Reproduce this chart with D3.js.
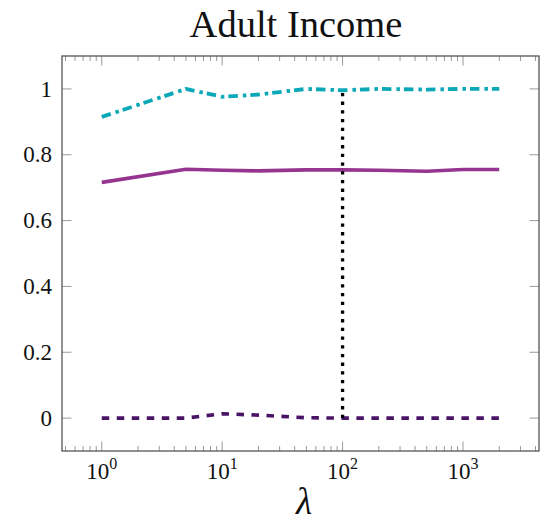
<!DOCTYPE html>
<html>
<head>
<meta charset="utf-8">
<script src="https://cdn.jsdelivr.net/npm/d3@7/dist/d3.min.js"></script>
<style>
  html, body { margin: 0; padding: 0; background: #fff; }
  svg { display: block; }
</style>
</head>
<body>
<svg id="chart" width="541" height="523"></svg>
<script>
// ---- data ----
const title = "Adult Income";
const xLabel = "λ";
const lambdas = [1, 5, 10, 20, 50, 100, 200, 500, 1000, 2000];
const seriesTop = [0.915, 1.0, 0.976, 0.983, 1.0, 0.996, 1.0, 0.998, 1.0, 1.0];
const seriesMid = [0.716, 0.756, 0.753, 0.751, 0.754, 0.754, 0.753, 0.750, 0.755, 0.755];
const seriesLow = [0.0, 0.0, 0.013, 0.009, 0.001, 0.0, 0.0, 0.0, 0.0, 0.0];
const markerX = [100, 100];
const markerY = [0, 1];
const yTicks = [0, 0.2, 0.4, 0.6, 0.8, 1];
const xTickExps = [0, 1, 2, 3];
const yDomain = [-0.1, 1.1];

// ---- layout ----
const pL = 62, pR = 539, pT = 56, pB = 451;
const svg = d3.select("#chart");
const serif = "'Liberation Serif', 'DejaVu Serif', serif";

const lmax = Math.log10(d3.max(lambdas));
const x = d3.scaleLog()
  .domain([Math.pow(10, -0.1 * lmax), Math.pow(10, 1.1 * lmax)])
  .range([pL, pR]);
const y = d3.scaleLinear().domain(yDomain).range([pB, pT]);

// minor ticks
const minor = [];
for (let e = -1; e <= 3; e++) {
  for (let m = 2; m <= 9; m++) {
    const v = m * Math.pow(10, e);
    if (v > x.domain()[0] && v < x.domain()[1]) minor.push(v);
  }
}
const major = xTickExps.map(e => Math.pow(10, e));

const tickColor = "#9a9a9a";
const g = svg.append("g");

// x ticks bottom & top (inward)
[[pB, -1], [pT, 1]].forEach(([yy, dir]) => {
  g.selectAll(null).data(minor).enter().append("line")
    .attr("x1", d => x(d)).attr("x2", d => x(d))
    .attr("y1", yy).attr("y2", yy + dir * 5)
    .attr("stroke", tickColor).attr("stroke-width", 1);
  g.selectAll(null).data(major).enter().append("line")
    .attr("x1", d => x(d)).attr("x2", d => x(d))
    .attr("y1", yy).attr("y2", yy + dir * 9.5)
    .attr("stroke", tickColor).attr("stroke-width", 1);
});
// y ticks left & right (inward)
[[pL, 1], [pR, -1]].forEach(([xx, dir]) => {
  g.selectAll(null).data(yTicks).enter().append("line")
    .attr("x1", xx).attr("x2", xx + dir * 9.5)
    .attr("y1", d => y(d)).attr("y2", d => y(d))
    .attr("stroke", tickColor).attr("stroke-width", 1);
});

// frame
g.append("rect")
  .attr("x", pL).attr("y", pT)
  .attr("width", pR - pL).attr("height", pB - pT)
  .attr("fill", "none").attr("stroke", "#555").attr("stroke-width", 1.3);

// y tick labels
g.selectAll(null).data(yTicks).enter().append("text")
  .attr("x", pL - 10).attr("y", d => y(d))
  .attr("dy", "0.33em")
  .attr("text-anchor", "end")
  .attr("font-family", serif).attr("font-size", 23)
  .attr("fill", "#111")
  .text(d => d3.format("~g")(d));

// x tick labels 10^e
const xl = g.selectAll(null).data(xTickExps).enter().append("text")
  .attr("x", d => x(Math.pow(10, d)))
  .attr("y", 479)
  .attr("text-anchor", "middle")
  .attr("font-family", serif).attr("font-size", 23)
  .attr("fill", "#111");
xl.append("tspan").text("10");
xl.append("tspan").attr("dy", -10).attr("font-size", 16).text(d => d);

// lines
const line = d3.line().x(d => x(d[0])).y(d => y(d[1]));
const plotG = svg.append("g");
function drawSeries(vals, color, dash, w) {
  plotG.append("path")
    .datum(lambdas.map((l, i) => [l, vals[i]]))
    .attr("d", line)
    .attr("fill", "none")
    .attr("stroke", color)
    .attr("stroke-width", w)
    .attr("stroke-dasharray", dash)
    .attr("stroke-linejoin", "round");
}
drawSeries(seriesMid, "#96358f", null, 3.6);
drawSeries(seriesLow, "#4a1466", "7.5 7.5", 3.6);
drawSeries(seriesTop, "#0ba8b8", "9.5 5 3.5 4", 3.8);

// vertical dotted marker
plotG.append("path")
  .datum(markerX.map((v, i) => [v, markerY[i]]))
  .attr("d", line)
  .attr("fill", "none")
  .attr("stroke", "#000")
  .attr("stroke-width", 3.3)
  .attr("stroke-dasharray", "3.3 5.4");

// title
svg.append("text")
  .attr("x", 296).attr("y", 37)
  .attr("text-anchor", "middle")
  .attr("font-family", serif).attr("font-size", 38.5)
  .attr("fill", "#111")
  .text(title);

// x label
svg.append("text")
  .attr("x", 304).attr("y", 514)
  .attr("text-anchor", "middle")
  .attr("font-family", serif).attr("font-size", 37)
  .attr("font-style", "italic")
  .attr("fill", "#111")
  .text(xLabel);
</script>
</body>
</html>
